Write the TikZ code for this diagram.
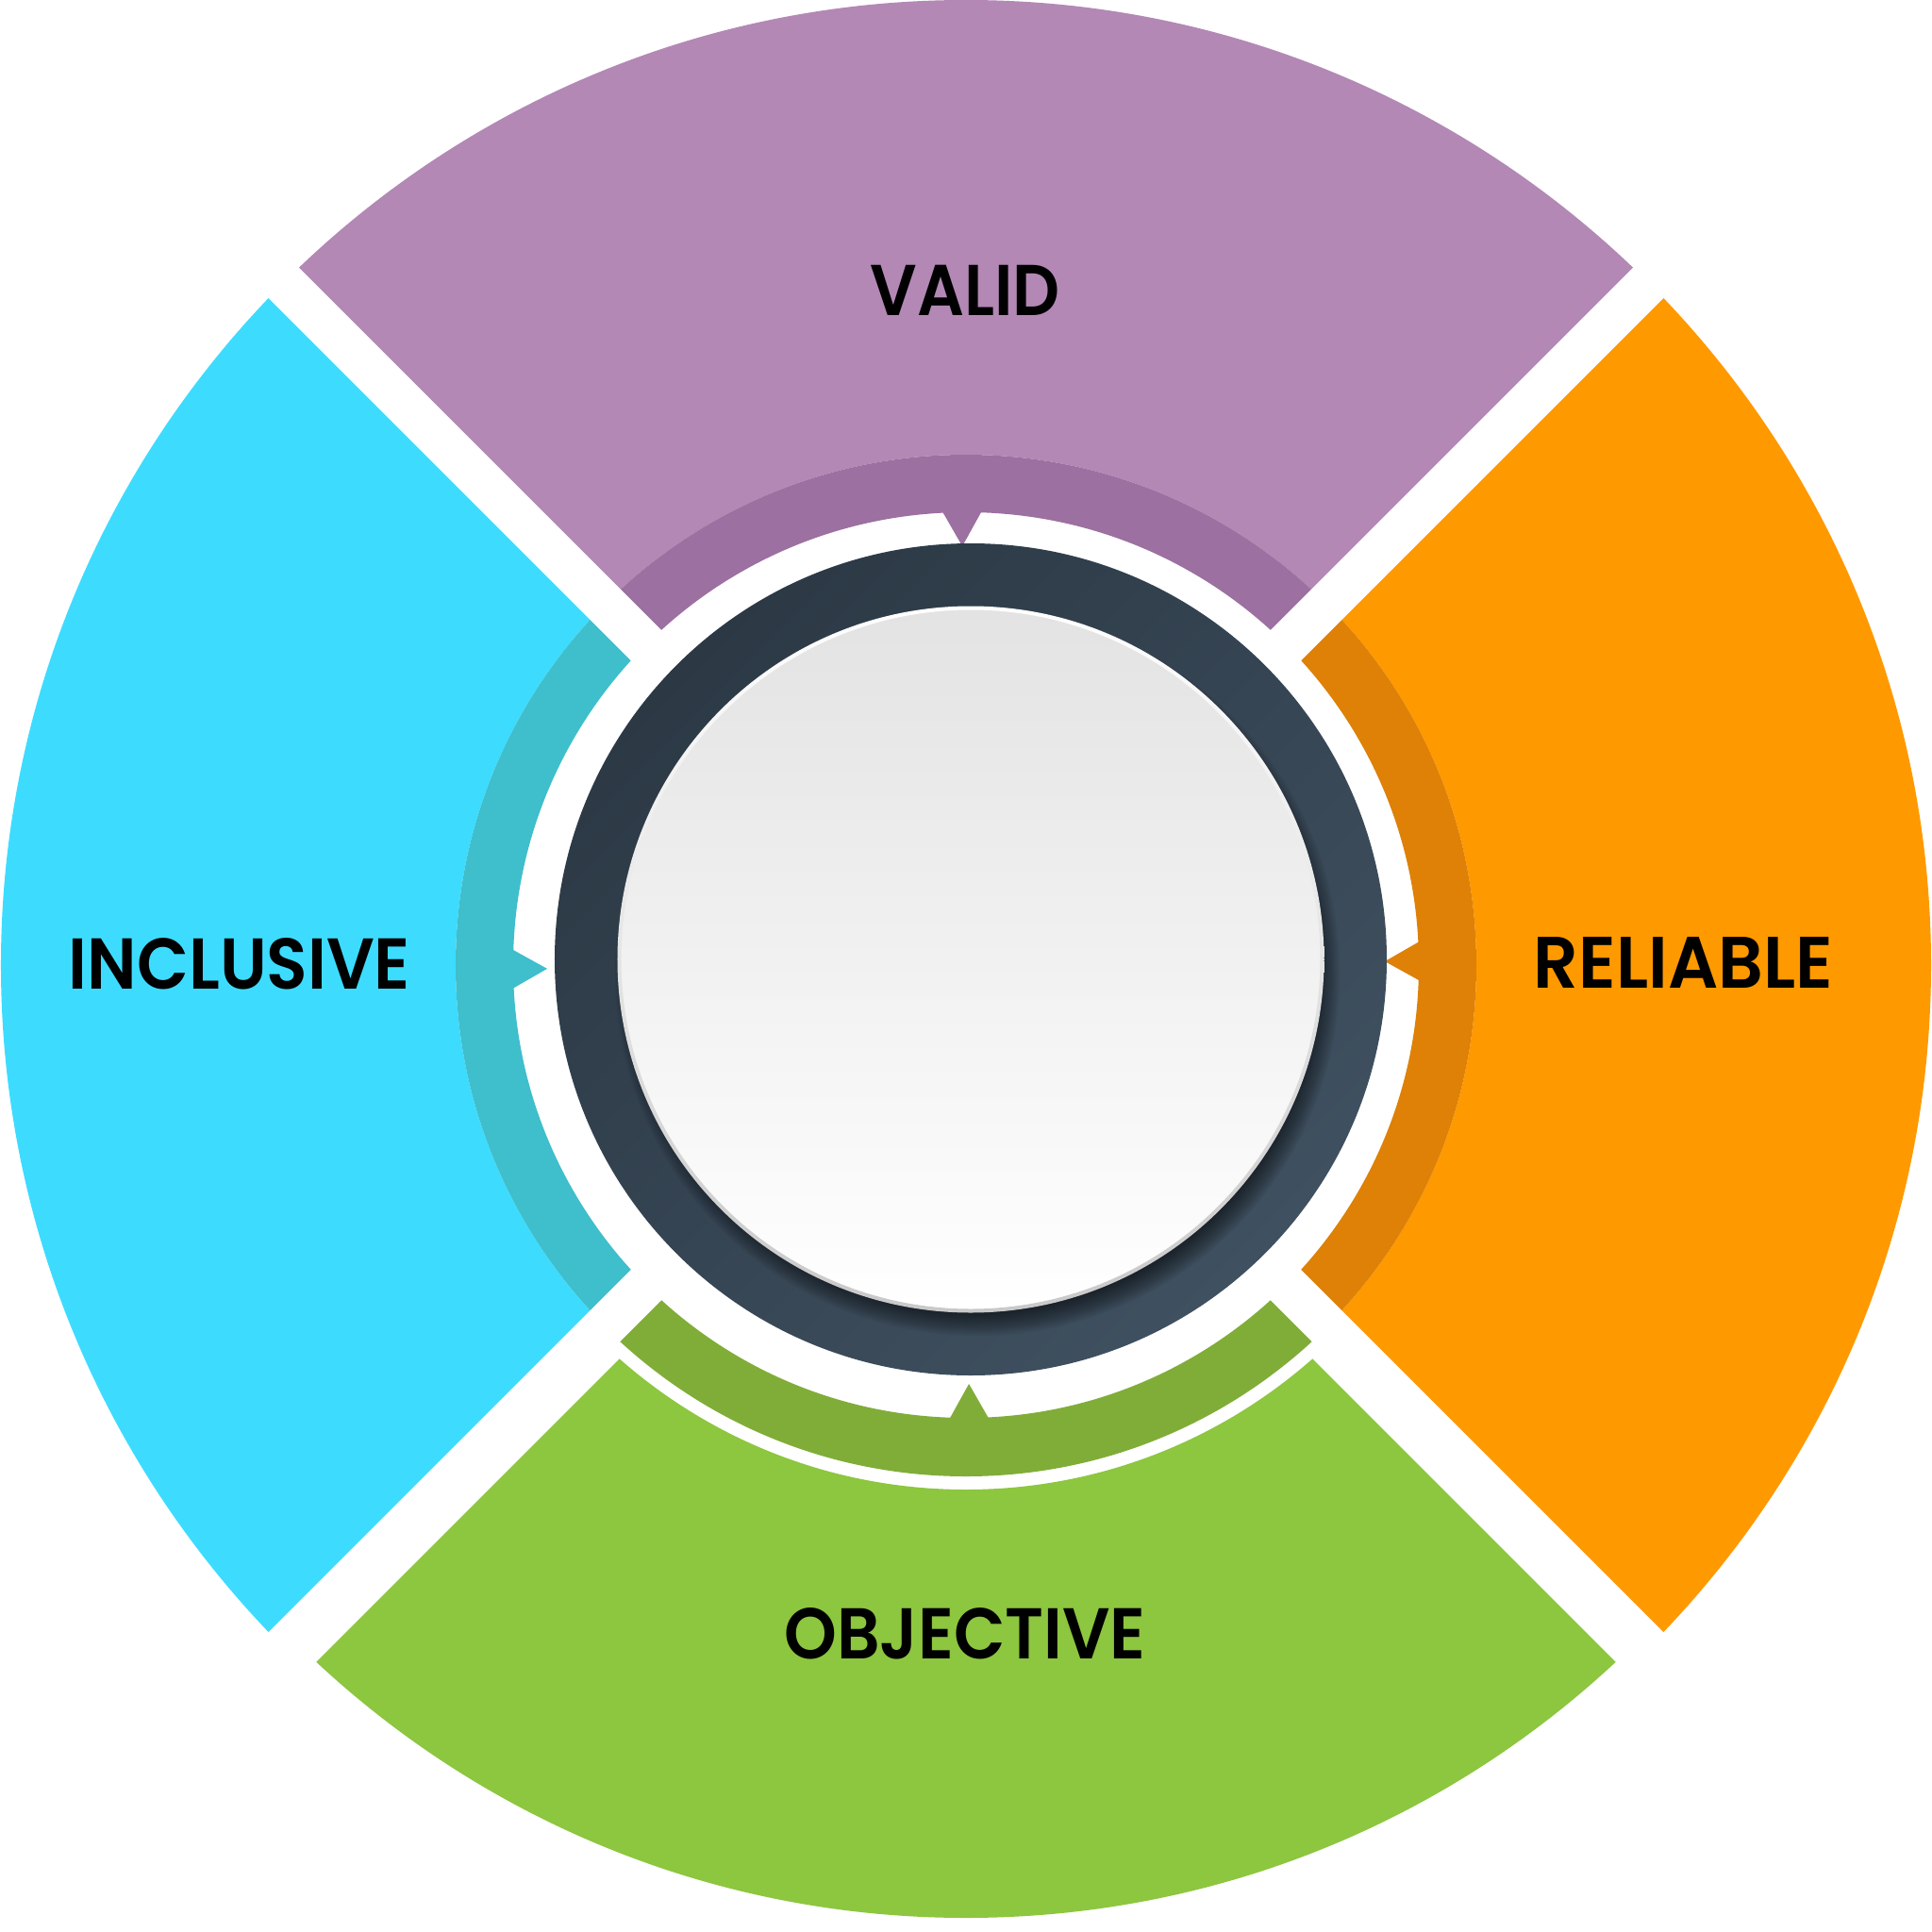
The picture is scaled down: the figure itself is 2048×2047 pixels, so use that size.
\documentclass[tikz,border=0pt]{standalone}
\usepackage{fontspec}
\setmainfont{Poppins}[BoldFont={Poppins SemiBold}]
\usepackage{graphicx}

\definecolor{purpleLight}{HTML}{B388B5}
\definecolor{purpleBand}{HTML}{9C70A0}
\definecolor{cyanLight}{HTML}{3DDCFF}
\definecolor{cyanBand}{HTML}{3FBECC}
\definecolor{orangeLight}{HTML}{FF9900}
\definecolor{orangeBand}{HTML}{DE8106}
\definecolor{greenLight}{HTML}{8DC63F}
\definecolor{greenBand}{HTML}{80AD38}
\definecolor{ringDark}{HTML}{2C3945}
\definecolor{ringLight}{HTML}{3F5060}
\definecolor{diskTop}{HTML}{E3E3E3}
\definecolor{diskRim}{HTML}{C9C9C9}

% wedge between two lines parallel to the diagonals, apex at distance #1 on the local x axis
\newcommand\wedgeclip[1]{\clip (#1,0) -- (1800,{1800-#1}) -- (1800,{-1800+#1}) -- cycle;}
% bold label stretched to a given width and cap height (in mm)
\newcommand\sectorlabel[3]{\resizebox{#1mm}{#2mm}{\bfseries #3}}

\tikzset{
  labeltext/.style={inner sep=0pt, outer sep=0pt, anchor=base, text=black},
}

\begin{document}
\begin{tikzpicture}[x=0.1mm,y=0.1mm]
\useasboundingbox (-1024,-1024) rectangle (1024,1023);
\fill[white] (-1024,-1024) rectangle (1024,1023);

% three quadrants: light outer part, darker inner band, notch pointing to the hub
\foreach \ang/\lite/\band in {90/purpleLight/purpleBand, 180/cyanLight/cyanBand, 0/orangeLight/orangeBand} {
  \begin{scope}[rotate=\ang]
    \begin{scope}
      \wedgeclip{32.5}
      \fill[\lite, even odd rule] (0,0) circle (1023) circle (541);
      \fill[\band, even odd rule] (0,0) circle (541) circle (480);
    \end{scope}
    \fill[\band, rotate=0.5] (444,0) -- (483,22) -- (483,-22) -- cycle;
  \end{scope}
}

% bottom quadrant: band detached from the outer part by a thin white gap
\begin{scope}[rotate=270]
  \begin{scope}
    \wedgeclip{32.5}
    \fill[greenBand, even odd rule] (0,0) circle (542) circle (480);
  \end{scope}
  \begin{scope}
    \wedgeclip{50.2}
    \fill[greenLight, even odd rule] (0,0) circle (1010) circle (556);
  \end{scope}
  \fill[greenBand, rotate=0.4] (444,0) -- (483,22) -- (483,-22) -- cycle;
\end{scope}

% central hub: dark ring, soft shadow below the disk, white disk
\begin{scope}[shift={(5,6)}]
  \shade[even odd rule, top color=ringDark, bottom color=ringLight, shading angle=45]
    (0,0) circle (441) circle (370);
  \begin{scope}
    \clip (0,0) circle (441);
    \foreach \r in {358,360,...,384} {
      \fill[black, opacity=0.05] (7,-15) circle (\r);
    }
  \end{scope}
  \shade[top color=diskTop, bottom color=white] (0,0) circle (372);
  \shade[even odd rule, top color=white, bottom color=diskRim] (0,0) circle (374.5) circle (370.5);
\end{scope}

% labels
\node[labeltext] (valid) at (-0.5,688) {\sectorlabel{20.1}{5.33}{VALID}};
\node[labeltext] (inclusive) at (-770,-25) {\sectorlabel{36.2}{5.4}{INCLUSIVE}};
\node[labeltext] (reliable) at (760.5,-24) {\sectorlabel{31.7}{5.4}{RELIABLE}};
\node[labeltext] (objective) at (-1,-735) {\sectorlabel{38.3}{5.4}{OBJECTIVE}};
\end{tikzpicture}
\end{document}
